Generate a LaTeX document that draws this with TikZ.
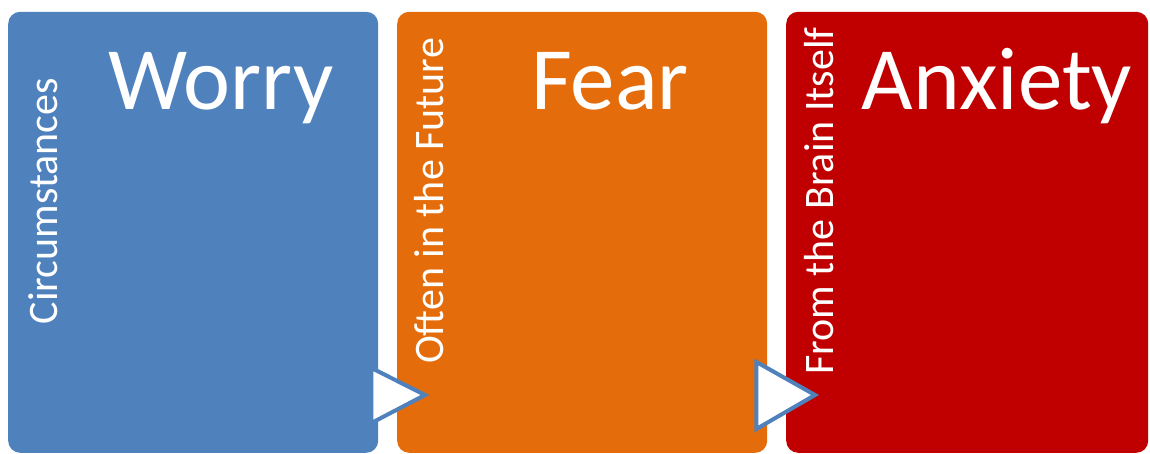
\documentclass[tikz,border=0pt]{standalone}
\usepackage{fontspec}
\setmainfont{Carlito}
\usepackage{tikz}
\usetikzlibrary{positioning, calc}
\definecolor{stageblue}{HTML}{4F81BD}
\definecolor{stageorange}{HTML}{E46C0A}
\definecolor{stagered}{HTML}{C00000}
\tikzstyle{stage}=[rectangle, rounded corners=12pt, minimum width=370pt, minimum height=441pt, inner sep=0pt, anchor=south west]
\tikzstyle{title}=[text=white, anchor=base, inner sep=0pt, font=\fontsize{89}{92}\selectfont]
\tikzstyle{side}=[text=white, anchor=base, rotate=90, inner sep=0pt, font=\fontsize{42}{44}\selectfont]
\tikzstyle{chevron}=[fill=white, draw=stageblue, line width=4pt, line join=miter]

\begin{document}
\begin{tikzpicture}[x=1pt, y=1pt]
  \useasboundingbox (0,0) rectangle (1150,454);

  % Stage boxes
  \node[stage, fill=stageblue]   (worry)   at (8,1)   {};
  \node[stage, fill=stageorange] (fear)    at (397,1) {};
  \node[stage, fill=stagered, minimum width=362pt] (anxiety) at (786,1) {};

  % Titles
  \node[title] (worrytxt)   at (221,344) {Worry};
  \node[title] (feartxt)    at (610,344) {Fear};
  \node[title] (anxietytxt) at (997,344) {Anxiety};

  % Side labels
  \node[side] (circ)   at (57,253)  {Circumstances};
  \node[side] (future) at (443,253) {Often in the Future};
  \node[side] (brain)  at (833,253) {From the Brain Itself};

  % Chevrons between stages
  \draw[chevron] ($(worry.south east)+(-7,85)$) -- ($(worry.south east)+(-7,30)$)
    -- ($(fear.south west)+(28,58)$) -- cycle;
  \draw[chevron] ($(fear.south east)+(-11,91)$) -- ($(fear.south east)+(-11,24)$)
    -- ($(anxiety.south west)+(29,58)$) -- cycle;
\end{tikzpicture}
\end{document}
